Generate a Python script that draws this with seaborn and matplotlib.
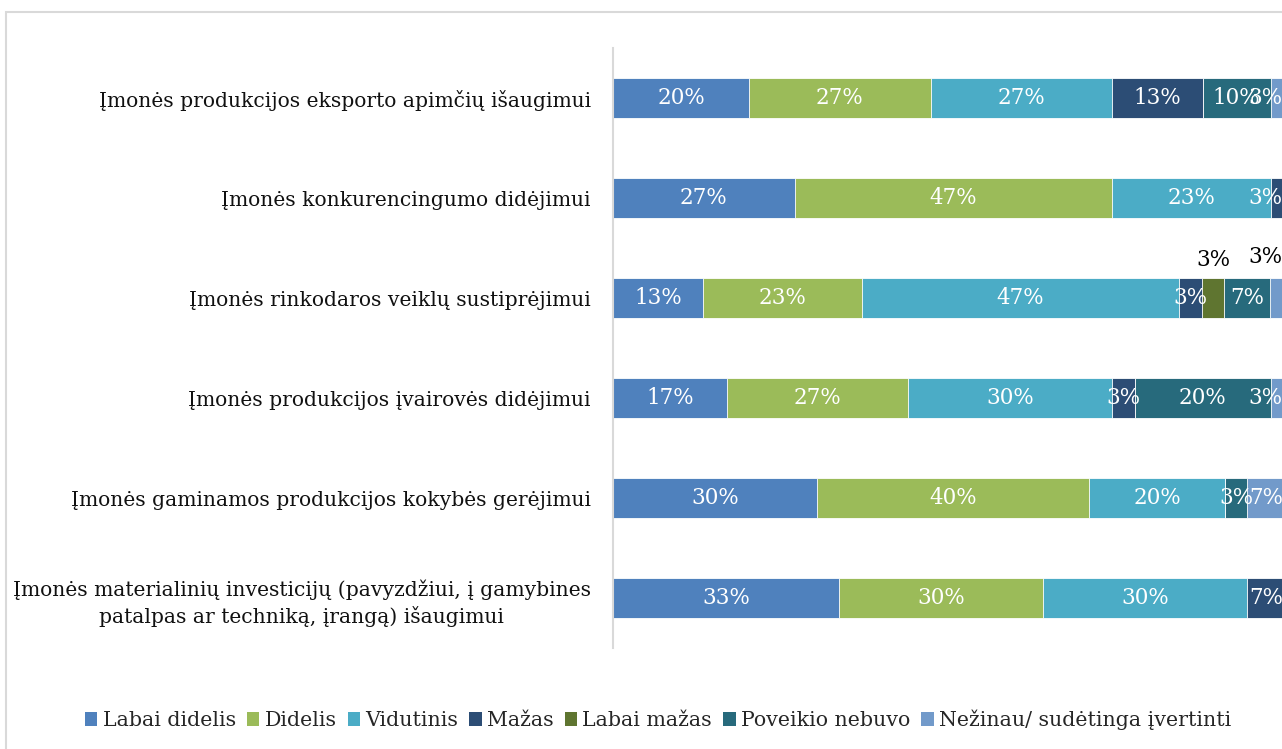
import matplotlib
matplotlib.use("Agg")
import matplotlib.pyplot as plt
from matplotlib.patches import Patch, Rectangle
import seaborn as sns
import pandas as pd
import numpy as np

categories = [
    "Įmonės produkcijos eksporto apimčių išaugimui",
    "Įmonės konkurencingumo didėjimui",
    "Įmonės rinkodaros veiklų sustiprėjimui",
    "Įmonės produkcijos įvairovės didėjimui",
    "Įmonės gaminamos produkcijos kokybės gerėjimui",
    "Įmonės materialinių investicijų (pavyzdžiui, į gamybines\npatalpas ar techniką, įrangą) išaugimui",
]
series = ["Labai didelis", "Didelis", "Vidutinis", "Mažas", "Labai mažas",
          "Poveikio nebuvo", "Nežinau/ sudėtinga įvertinti"]

labai_didelis = [20.0, 26.7, 13.3, 16.7, 30.0, 33.3]
didelis       = [26.7, 46.7, 23.3, 26.7, 40.0, 30.0]
vidutinis     = [26.7, 23.3, 46.7, 30.0, 20.0, 30.0]
mazas         = [13.3, 3.3, 3.3, 3.3, 0.0, 6.7]
labai_mazas   = [0.0, 0.0, 3.3, 0.0, 0.0, 0.0]
poveikio_nebuvo = [10.0, 0.0, 6.7, 20.0, 3.3, 0.0]
nezinau       = [3.3, 0.0, 3.3, 3.3, 6.7, 0.0]

colors = ["#4F81BD", "#9BBB59", "#4BACC6", "#2C4D75", "#5F7530", "#276A7C", "#729ACA"]

values = [labai_didelis, didelis, vidutinis, mazas, labai_mazas, poveikio_nebuvo, nezinau]
df = pd.DataFrame({s: v for s, v in zip(series, values)}, index=categories)
cum = df.cumsum(axis=1)

sns.set_theme(style="white")
FONT = "DejaVu Serif"
plt.rcParams["font.family"] = [FONT, "DejaVu Sans"]

W, H = 1282, 749
fig = plt.figure(figsize=(W / 100, H / 100), dpi=100)
fig.patches.append(Rectangle((6 / W, -0.1), 1.2, 1 - 12 / H + 0.1, transform=fig.transFigure,
                             fill=False, edgecolor="#D9D9D9", linewidth=1.5, zorder=0))
ax = fig.add_axes([613 / W, 1 - 648 / H, 680 / W, 600 / H])

for j in range(len(series) - 1, -1, -1):
    d = pd.DataFrame({"cat": categories, "val": cum.iloc[:, j].values})
    sns.barplot(data=d, y="cat", x="val", order=categories, color=colors[j],
                width=0.4, orient="y", ax=ax, saturation=1,
                edgecolor="white", linewidth=0.6)

ax.set_xlim(0, 100)
ax.set_ylim(5.5, -0.5)
ax.set_xlabel("")
ax.set_ylabel("")
ax.set_xticks([])
for s in ["top", "right", "bottom"]:
    ax.spines[s].set_visible(False)
ax.spines["left"].set_color("#D9D9D9")
ax.spines["left"].set_linewidth(1.5)
ax.tick_params(axis="y", length=0, pad=16)
ax.set_yticks(range(len(categories)))
ax.set_yticklabels(categories, fontsize=14.6, color="#111111",
                   multialignment="center", linespacing=1.35)

above = {(2, 4): -0.38, (2, 6): -0.41}
for i in range(len(categories)):
    for j in range(len(series)):
        v = df.iloc[i, j]
        if v <= 0:
            continue
        c = cum.iloc[i, j] - v / 2
        c = min(c, 96.0)
        txt = f"{v:.0f}%"
        if (i, j) in above:
            ax.text(c, i + above[(i, j)], txt, ha="center", va="center",
                    fontsize=15.5, color="black", clip_on=False)
        else:
            ax.text(c, i, txt, ha="center", va="center", fontsize=15.5,
                    color="white", clip_on=False)

handles = [Patch(facecolor=c, edgecolor="none") for c in colors]
fig.legend(handles, series, loc="center", bbox_to_anchor=(658 / W, 1 - 720 / H),
           ncol=7, frameon=False, fontsize=14.8, handlelength=0.6, handleheight=0.6,
           handletextpad=0.25, columnspacing=0.55)

fig.savefig("out.png", dpi=100)
